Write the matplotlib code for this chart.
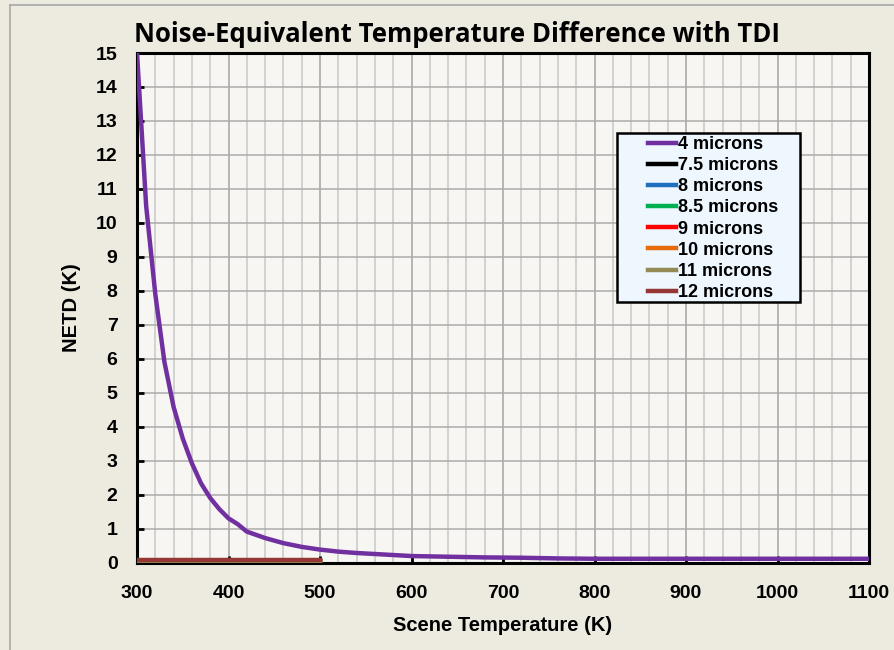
import matplotlib
matplotlib.use("Agg")
import matplotlib.pyplot as plt
from matplotlib.lines import Line2D
from matplotlib.patches import Rectangle
from matplotlib.ticker import MultipleLocator

# Data
temps_4um = [300, 310, 320, 330, 340, 350, 360, 370, 380, 390, 400, 410, 420,
             440, 460, 480, 500, 520, 540, 560, 580, 600, 640, 680, 720, 760,
             800, 900, 1000, 1100]
netd_4um = [15.0, 10.5, 7.9, 5.9, 4.58, 3.65, 2.92, 2.33, 1.9, 1.57, 1.30, 1.13, 0.91,
            0.72, 0.57, 0.46, 0.38, 0.32, 0.28, 0.25, 0.22, 0.19, 0.17, 0.15, 0.14, 0.12,
            0.11, 0.11, 0.11, 0.11]

temps_lw = [300, 350, 400, 450, 500]
series_names = ["7.5 microns", "8 microns", "8.5 microns", "9 microns",
                "10 microns", "11 microns", "12 microns"]
series_vals = [
    [0.05, 0.05, 0.05, 0.05, 0.05],
    [0.05, 0.05, 0.05, 0.05, 0.05],
    [0.05, 0.05, 0.05, 0.05, 0.05],
    [0.05, 0.05, 0.05, 0.05, 0.05],
    [0.04, 0.04, 0.04, 0.04, 0.04],
    [0.05, 0.05, 0.05, 0.05, 0.05],
    [0.06, 0.06, 0.06, 0.06, 0.06],
]
colors = ["#000000", "#1F6FBF", "#00B050", "#FF0000", "#E46C0A", "#948A54", "#953735"]
purple = "#7030A0"

x_ticks = [300, 400, 500, 600, 700, 800, 900, 1000, 1100]
y_ticks = list(range(0, 16))

W, H = 894, 650
fig = plt.figure(figsize=(W / 100, H / 100), dpi=100)
fig.patch.set_facecolor("#EDEBE0")
ax = fig.add_axes([137 / W, 1 - 562.5 / H, (869 - 137) / W, (562.5 - 53) / H])
ax.set_facecolor("#F7F6F2")

# figure border
fig.add_artist(Line2D([10 / W, 10 / W], [0, 1 - 5 / H], transform=fig.transFigure,
                      color="#A8A8A8", lw=1.2))
fig.add_artist(Line2D([10 / W, 1], [1 - 5 / H, 1 - 5 / H], transform=fig.transFigure,
                      color="#A8A8A8", lw=1.2))

ax.set_xlim(300, 1100)
ax.set_ylim(0, 15)
ax.xaxis.set_major_locator(MultipleLocator(100))
ax.xaxis.set_minor_locator(MultipleLocator(20))
ax.yaxis.set_major_locator(MultipleLocator(1))
ax.grid(which="major", axis="x", color="#B0B0B0", lw=1.3)
ax.grid(which="minor", axis="x", color="#C8C8C8", lw=1.1)
ax.grid(which="major", axis="y", color="#ABABAB", lw=1.1)
ax.set_axisbelow(True)

ax.plot(temps_4um, netd_4um, color=purple, lw=3.2, label="4 microns", zorder=5,
        solid_joinstyle="round")
for name, vals, c in zip(series_names, series_vals, colors):
    ax.plot(temps_lw, vals, color=c, lw=3.2, label=name, zorder=4)

for s in ax.spines.values():
    s.set_color("black")
    s.set_linewidth(2.2)

ax.set_xticks(x_ticks)
ax.set_yticks(y_ticks)
tick_font = {"family": "Liberation Sans", "weight": "bold", "size": 14}
ax.set_xticklabels([str(t) for t in x_ticks], fontdict=tick_font)
ax.set_yticklabels([str(t) for t in y_ticks], fontdict=tick_font)
ax.tick_params(axis="both", which="major", direction="in", length=5, width=2, color="black")
ax.tick_params(axis="x", which="major", pad=16.5)
ax.tick_params(axis="y", which="major", pad=14)
ax.tick_params(axis="x", which="minor", length=0)

lab_font = {"family": "Liberation Sans", "weight": "bold", "size": 14.5}
ax.set_xlabel("Scene Temperature (K)", fontdict=lab_font, labelpad=10)
ax.set_ylabel("NETD (K)", fontdict=lab_font, labelpad=11)

fig.text(457 / W, 1 - 34 / H, "Noise-Equivalent Temperature Difference with TDI",
         ha="center", va="center", fontsize=18.5, fontweight="bold", family="Open Sans")

# legend box
box = Rectangle((617 / W, 1 - 302 / H), (800 - 617) / W, (302 - 133) / H,
                transform=fig.transFigure, facecolor="#EEF6FE", edgecolor="black",
                lw=1.8, zorder=9, clip_on=False)
ax.add_patch(box)
leg = ax.legend(loc="upper left", bbox_to_anchor=(648 / W, 1 - 136 / H),
                bbox_transform=fig.transFigure, frameon=False,
                prop={"family": "Liberation Sans", "weight": "bold", "size": 13},
                handlelength=1.55, handletextpad=0.1, labelspacing=0.23, borderpad=0,
                borderaxespad=0)
leg.set_zorder(10)

fig.savefig("out.png", dpi=100, facecolor=fig.get_facecolor())
